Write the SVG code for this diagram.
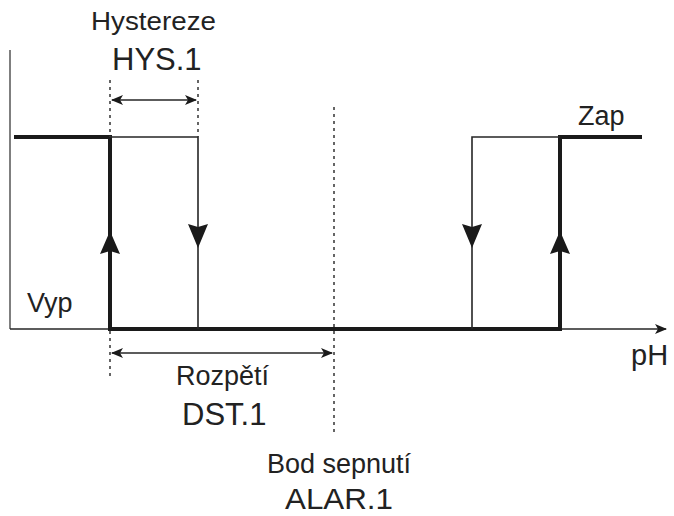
<svg xmlns="http://www.w3.org/2000/svg" width="674" height="516" viewBox="0 0 674 516">
<style>
text{font-family:"Liberation Sans",Arial,sans-serif;fill:#222}
.lbl{font-size:27px}
.code{font-size:31px}
.thin{stroke:#262626;stroke-width:1.6;fill:none}
.thick{stroke:#1a1a1a;stroke-width:4;fill:none}
.dot{stroke:#333;stroke-width:1.5;stroke-dasharray:3 4;fill:none}
.head{fill:#1a1a1a}
</style>
<defs>
<marker id="ah" viewBox="0 0 12 10" refX="11" refY="5" markerWidth="12" markerHeight="10" markerUnits="userSpaceOnUse" orient="auto-start-reverse">
<path d="M0,0 L12,5 L0,10 L3,5 Z" fill="#1a1a1a"/>
</marker>
</defs>
<rect width="674" height="516" fill="#fff"/>
<g id="axes">
<line x1="10" y1="50" x2="10" y2="329" stroke="#555" stroke-width="1.5"/>
<line x1="10" y1="329" x2="666" y2="329" class="thin" marker-end="url(#ah)"/>
</g>
<g id="connectors">
<polyline class="thick" points="14,137 110,137 110,329 560,329 560,137 642,137"/>
<polyline class="thin" points="110,137 198,137 198,329"/>
<polyline class="thin" points="560,137 472,137 472,329"/>
<line class="dot" x1="110" y1="80" x2="110" y2="137"/>
<line class="dot" x1="198" y1="80" x2="198" y2="137"/>
<line class="dot" x1="110" y1="331" x2="110" y2="378"/>
<line class="dot" x1="334" y1="107" x2="334" y2="436"/>
<line class="thin" x1="112" y1="100" x2="196" y2="100" marker-start="url(#ah)" marker-end="url(#ah)"/>
<line class="thin" x1="112" y1="353" x2="332" y2="353" marker-start="url(#ah)" marker-end="url(#ah)"/>
<polygon class="head" points="110,231 120,254 110,251 100,254"/>
<polygon class="head" points="560,231 570,254 560,251 550,254"/>
<polygon class="head" points="198,248 188,224 198,227 208,224"/>
<polygon class="head" points="472,248 462,224 472,227 482,224"/>
</g>
<g id="labels">
<text x="91" y="30" style="font-size:25px" textLength="125" lengthAdjust="spacingAndGlyphs">Hystereze</text>
<text class="code" x="112" y="70">HYS.1</text>
<text class="lbl" x="27" y="312">Vyp</text>
<text class="lbl" x="578" y="125">Zap</text>
<text x="631" y="365" style="font-size:29px">pH</text>
<text class="lbl" x="176" y="385">Rozpětí</text>
<text class="code" x="182" y="425">DST.1</text>
<text class="lbl" x="267" y="473">Bod sepnutí</text>
<text x="285" y="509" style="font-size:30px" textLength="108" lengthAdjust="spacingAndGlyphs">ALAR.1</text>
</g>
</svg>
